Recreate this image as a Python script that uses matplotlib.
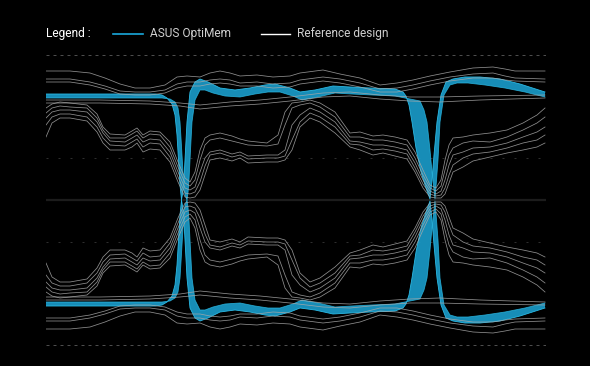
import matplotlib
matplotlib.use("Agg")
import matplotlib.pyplot as plt
from matplotlib.lines import Line2D
import numpy as np

# ---------------- data (time in ps, amplitude in mV, upper half; lower half mirrors) ----
# Reference design: high group
h_t = [0, 24, 44, 59, 74, 89, 104, 119, 131, 141, 154, 164, 174, 184, 194, 211, 227, 244, 254, 277,
       294, 314, 334, 351, 367, 384, 404, 427, 447, 459, 469, 499]
h1 = [129, 129, 127, 122, 116, 112, 112, 115, 123, 124, 123, 127, 129, 127, 124, 125, 123, 124, 127, 130,
      126, 122, 115, 117, 120, 124, 128, 132, 133, 131, 129, 129]
h2 = [121, 121, 118, 114, 109, 108, 108, 110, 116, 118, 118, 120, 121, 120, 117, 118, 116, 117, 120, 123,
      121, 117, 111, 112, 115, 119, 123, 126, 127, 124, 122, 121]
h3 = [118, 118, 115, 111, 106, 105, 105, 107, 112, 114, 114, 116, 117, 116, 114, 114, 112, 113, 116, 119,
      117, 113, 108, 108, 111, 115, 119, 122, 122, 120, 119, 118]

# Reference design: mid group
m_t = [0, 54, 104, 134, 154, 184, 214, 244, 277, 304, 334, 364, 394, 434, 499]
m1 = [100, 100, 99, 97, 95, 98, 100, 103, 107, 108, 105, 103, 103, 104, 105]
m2 = [97, 97, 96, 94, 91, 94, 96, 99, 103, 104, 101, 99, 98, 100, 102]

# Reference design: transition group
l_t = [0, 6, 14, 24, 41, 51, 57, 64, 79, 86, 91, 97, 104, 114, 124, 132, 139, 144, 149, 154,
       159, 164, 174, 186, 194, 202, 221, 232, 239, 246, 254, 264, 274, 289, 304, 314, 327, 337, 349, 361,
       369, 377, 384, 390, 395, 399, 403, 407, 417, 427, 444, 461, 477, 491, 499]
l1 = [92, 96, 98, 97, 95, 86, 73, 66, 65, 69, 72, 65, 69, 68, 58, 38, 22, 18, 28, 50,
      62, 65, 67, 64, 61, 59, 57, 65, 88, 97, 98, 100, 97, 88, 67, 68, 64, 65, 63, 60,
      48, 30, 15, 12, 20, 40, 55, 62, 63, 65, 67, 70, 77, 85, 92]
l2 = [87, 92, 94, 93, 92, 82, 70, 62, 62, 66, 69, 62, 66, 65, 53, 33, 17, 14, 20, 40,
      55, 60, 62, 59, 57, 55, 54, 56, 75, 92, 95, 97, 93, 83, 63, 63, 60, 60, 58, 55,
      42, 25, 12, 9, 14, 30, 45, 52, 57, 59, 58, 63, 70, 77, 83]
l3 = [82, 88, 90, 90, 88, 78, 67, 59, 58, 62, 65, 58, 61, 60, 48, 28, 12, 10, 13, 28,
      42, 48, 50, 46, 48, 44, 45, 45, 50, 75, 85, 92, 88, 78, 59, 58, 55, 55, 53, 50,
      37, 20, 9, 6, 9, 20, 35, 45, 48, 52, 53, 57, 63, 68, 73]
l4 = [75, 83, 86, 86, 83, 73, 62, 55, 54, 58, 61, 53, 57, 56, 43, 23, 7, 6, 8, 18,
      34, 45, 47, 43, 45, 41, 42, 42, 44, 60, 78, 87, 83, 73, 56, 55, 50, 51, 49, 46,
      32, 16, 6, 4, 5, 12, 25, 35, 42, 46, 48, 52, 57, 60, 65]
l5 = [63, 77, 82, 82, 79, 68, 57, 50, 50, 53, 57, 48, 51, 50, 38, 18, 3, 2, 3, 10,
      25, 40, 42, 39, 42, 37, 38, 38, 40, 50, 73, 82, 78, 67, 53, 50, 45, 47, 44, 41,
      28, 12, 3, 2, 2, 6, 17, 28, 33, 39, 43, 47, 50, 53, 57]

# ASUS OptiMem band: early edge (A) and late edge (B)
a_t = [0, 74, 109, 116, 121, 126, 129, 131, 132.5, 134, 135.5, 137.5, 139, 141, 144, 149, 154, 162, 174, 189,
       204, 219, 229, 244, 254, 269, 287, 304, 324, 349, 357, 360, 363, 366, 370, 375, 380, 384, 386, 388,
       391, 395, 400, 407, 419, 434, 454, 474, 499]
a_v = [106, 106, 106, 105, 102, 96, 85, 65, 40, 15, 0, 12, 40, 78, 108, 118, 121, 118, 112, 110,
       112, 115, 116, 112, 108, 110, 114, 113, 112, 111, 108, 104, 95, 78, 52, 28, 12, 1, 20, 45,
       78, 105, 118, 121, 123, 123, 121, 116, 108]
b_t = [0, 74, 109, 116, 124, 129, 132, 134, 135, 136, 137, 139, 141, 142, 143, 144.5, 146, 149, 154, 159,
       167, 179, 194, 209, 222, 234, 247, 256, 272, 289, 306, 326, 349, 364, 374, 378, 381, 384, 386, 388,
       389, 390.5, 392, 394, 398, 404, 411, 422, 439, 459, 479, 499]
b_v = [102, 102, 102, 102, 101, 98, 92, 78, 62, 45, 28, 5, 0, 7, 20, 50, 78, 100, 110, 110,
       107, 104, 103, 106, 108, 108, 104, 100, 103, 107, 106, 105, 104, 101, 99, 90, 78, 50, 28, 10,
       1, 20, 40, 78, 105, 115, 117, 117, 115, 112, 108, 103]

ref_levels = [145, -145]
mid_levels = [42, -42]

legend_title = "Legend :"
series_names = ["ASUS OptiMem", "Reference design"]

# ---------------- figure ----------------
W, H = 590, 366
fig = plt.figure(figsize=(W / 100, H / 100), dpi=100, facecolor="black")
ax = fig.add_axes([46 / W, (H - 350) / H, 500 / W, 300 / H])
ax.set_facecolor("black")
ax.set_xlim(0, 500)
ax.set_ylim(-150, 150)
ax.axis("off")

cyan_fill = "#1a9dcc"
cyan_edge = "#2ab9e4"
white = "#a8a8a8"

# guide lines
for lv in ref_levels:
    ax.axhline(lv, color="#4d4d4d", lw=0.72, ls=(0, (3, 4)), zorder=1)
for lv in mid_levels:
    ax.axhline(lv, color="#2e2e2e", lw=0.72, ls=(0, (2, 10)), zorder=1)
ax.axhline(0, color="#1c1c1c", lw=1.6, zorder=1)

# ASUS band
for s in (1, -1):
    xs = list(a_t) + list(b_t)[::-1]
    ys = list(np.array(a_v) * s) + list(np.array(b_v)[::-1] * s)
    ax.fill(xs, ys, color=cyan_fill, alpha=0.9, lw=0, zorder=2)
    ax.plot(a_t, np.array(a_v) * s, color=cyan_edge, lw=0.6, zorder=2.5)
    ax.plot(b_t, np.array(b_v) * s, color=cyan_edge, lw=0.6, alpha=0.8, zorder=2.5)

# Reference design
groups = [(h_t, [h1, h2, h3]), (m_t, [m1, m2]), (l_t, [l1, l2, l3, l4, l5])]
for tt, lines in groups:
    for ln in lines:
        v = np.array(ln, dtype=float)
        for s in (1, -1):
            ax.plot(tt, v * s, color=white, lw=0.55, alpha=0.85, zorder=3,
                    solid_joinstyle="round")

# ---------------- legend ----------------
ly = 1 - 34 / H
fig.text(46 / W, ly, legend_title, color="white", fontsize=8.6, family="Roboto",
         va="center", ha="left")
fig.add_artist(Line2D([113 / W, 143 / W], [ly, ly], transform=fig.transFigure,
                      color="#1aa9dd", lw=1.2))
fig.text(150 / W, ly, series_names[0], color="#cfcfcf", fontsize=8.6, family="Roboto",
         va="center", ha="left")
fig.add_artist(Line2D([261 / W, 290 / W], [ly, ly], transform=fig.transFigure,
                      color="white", lw=1.0))
fig.text(297 / W, ly, series_names[1], color="#cfcfcf", fontsize=8.6, family="Roboto",
         va="center", ha="left")

fig.savefig("out.png", dpi=100, facecolor="black")
